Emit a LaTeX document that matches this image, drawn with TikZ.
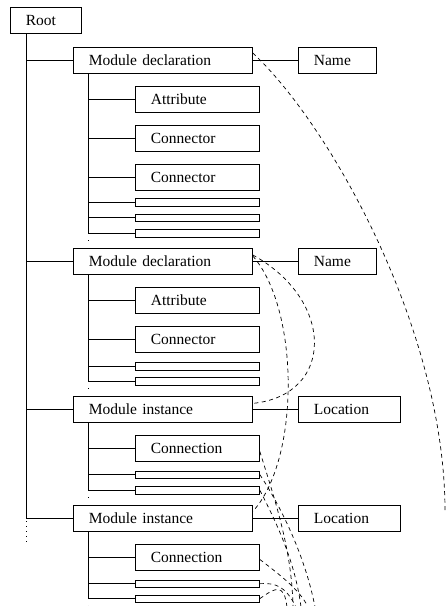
\documentclass[tikz,border=0pt]{standalone}
\usepackage{fontspec}
\setmainfont{Liberation Serif}
\usetikzlibrary{calc}
\begin{document}
\begin{tikzpicture}[x=1pt,y=-1pt,
  box/.style={draw, line width=0.8pt, anchor=north west, minimum height=26pt,
    inner xsep=15.5pt, inner ysep=0pt, align=left, font=\fontsize{15.5}{18}\selectfont},
  rootbox/.style={box, text width=40pt},
  modbox/.style={box, text width=148pt},
  kidbox/.style={box, text width=93pt},
  namebox/.style={box, text width=47pt},
  locbox/.style={box, text width=71pt},
  slot/.style={draw, line width=0.8pt, anchor=north west, minimum width=124pt,
    minimum height=7.5pt, inner sep=0pt},
  tline/.style={line width=0.8pt},
  dots/.style={line width=0.8pt, dash pattern=on 0.8pt off 4.2pt},
  ref/.style={line width=0.7pt, dash pattern=on 4pt off 3.5pt}]
\useasboundingbox (0,0) rectangle (446,606);

% nodes
\node[rootbox] (root) at (10,7) {Root};

\node[modbox] (md1) at (73,47) {Module declaration};
\node[namebox] (name1) at (298,47) {Name};
\node[kidbox] (at1) at (135,86) {Attribute};
\node[kidbox] (ca1) at (135,125) {Connector};
\node[kidbox] (cb1) at (135,164) {Connector};
\node[slot] (s11) at (135,198) {};
\node[slot] (s12) at (135,213.5) {};
\node[slot] (s13) at (135,229) {};

\node[modbox] (md2) at (73,248) {Module declaration};
\node[namebox] (name2) at (298,248) {Name};
\node[kidbox] (at2) at (135,287) {Attribute};
\node[kidbox] (ca2) at (135,326) {Connector};
\node[slot] (s21) at (135,362) {};
\node[slot] (s22) at (135,377) {};

\node[modbox] (mi1) at (73,396) {Module instance};
\node[locbox] (loc1) at (298,396) {Location};
\node[kidbox] (cn1) at (135,435) {Connection};
\node[slot] (s31) at (135,470.5) {};
\node[slot] (s32) at (135,486) {};

\node[modbox] (mi2) at (73,505) {Module instance};
\node[locbox] (loc2) at (298,505) {Location};
\node[kidbox] (cn2) at (135,544) {Connection};
\node[slot] (s41) at (135,579.5) {};
\node[slot] (s42) at (135,594.5) {};

% tree lines
\coordinate (rt) at ([xshift=16.7pt]root.south west);
\draw[tline] (rt) |- (mi2.west);
\foreach \n in {md1,md2,mi1} \draw[tline] (rt) |- (\n.west);
\draw[dots] ($(rt |- mi2.west)+(0,3)$) -- ++(0,21);

\coordinate (k1) at ([xshift=15.7pt]md1.south west);
\draw[tline] (k1) |- (s13.west);
\foreach \n in {at1,ca1,cb1,s11,s12} \draw[tline] (k1) |- (\n.west);
\draw[dots] ($(k1 |- s13.west)+(0,7)$) -- ++(0,1);

\coordinate (k2) at ([xshift=15.7pt]md2.south west);
\draw[tline] (k2) |- (s22.west);
\foreach \n in {at2,ca2,s21} \draw[tline] (k2) |- (\n.west);
\draw[dots] ($(k2 |- s22.west)+(0,7)$) -- ++(0,1);

\coordinate (k3) at ([xshift=15.7pt]mi1.south west);
\draw[tline] (k3) |- (s32.west);
\foreach \n in {cn1,s31} \draw[tline] (k3) |- (\n.west);
\draw[dots] ($(k3 |- s32.west)+(0,7)$) -- ++(0,1);

\coordinate (k4) at ([xshift=15.7pt]mi2.south west);
\draw[tline] (k4) |- (s42.west);
\foreach \n in {cn2,s41} \draw[tline] (k4) |- (\n.west);
\draw[dots] ($(k4 |- s42.west)+(0,7)$) -- ++(0,1);

\draw[tline] (md1.east) -- (name1.west);
\draw[tline] (md2.east) -- (name2.west);
\draw[tline] (mi1.east) -- (loc1.west);
\draw[tline] (mi2.east) -- (loc2.west);

% reference (dashed) lines
\coordinate (cend) at (445,511);
\draw[ref] ([yshift=-6pt]md1.north east) .. controls (330,125) and (445,330) .. (cend);
\draw[ref] ([yshift=-7pt]md2.north east) .. controls (335,300) and (335,395) .. ([yshift=6pt]mi1.east);
\draw[ref] ([yshift=-8pt]md2.north east) .. controls (300,310) and (300,460) .. ([yshift=7pt]mi2.east);

\coordinate (e1) at (293,607);
\coordinate (e2) at (315,607);
\coordinate (e3) at (301,607);
\coordinate (e4) at (308,607);
\coordinate (e5) at (296,607);
\coordinate (e6) at (287,607);
\draw[ref] ([yshift=-3pt]cn1.east) .. controls (275,500) and (292,550) .. (e1);
\draw[ref] (s31.east) .. controls (280,505) and (305,555) .. (e2);
\draw[ref] (s32.east) .. controls (275,520) and (295,560) .. (e3);
\draw[ref] ([yshift=-2pt]cn2.east) .. controls (280,575) and (300,590) .. (e4);
\draw[ref] (s41.east) .. controls (275,583) and (285,585) .. (e5);
\draw[ref] (s42.east) .. controls (275,588) and (284,582) .. (e6);
\end{tikzpicture}
\end{document}
